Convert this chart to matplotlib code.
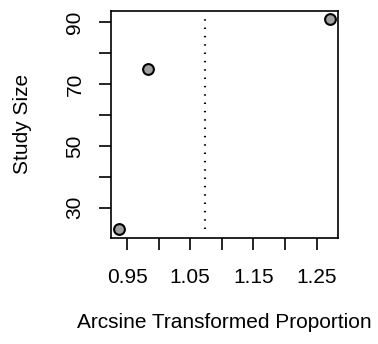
import matplotlib
matplotlib.use("Agg")
import matplotlib.pyplot as plt
import numpy as np

plt.rcParams['font.family'] = ['Liberation Sans', 'DejaVu Sans']

# Data
effect = [0.938, 0.983, 1.271]      # arcsine transformed proportions
study_size = [23, 75, 91]
pooled = 1.073
xticks = [0.95, 1.00, 1.05, 1.10, 1.15, 1.20, 1.25]
xtick_labels = ["0.95", "", "1.05", "", "1.15", "", "1.25"]
yticks = [30, 40, 50, 60, 70, 80, 90]
ytick_labels = ["30", "", "50", "", "70", "", "90"]

W, H = 378, 344
fig = plt.figure(figsize=(W/100, H/100), dpi=100)
ax = fig.add_axes([111/W, 1-237.7/H, (338.3-111)/W, (237.7-10.7)/H])

ax.plot([pooled, pooled], [min(study_size), max(study_size)], color='black',
        lw=1.5, dashes=(0.7, 3.3))
ax.scatter(effect, study_size, s=60, facecolor='#A0A0A0', edgecolor='black',
           linewidths=1.5, zorder=3)

xr = max(effect) - min(effect)
ax.set_xlim(min(effect) - 0.04*xr, max(effect) + 0.04*xr)
yr = max(study_size) - min(study_size)
ax.set_ylim(min(study_size) - 0.04*yr, max(study_size) + 0.04*yr)

ax.set_xticks(xticks)
ax.set_xticklabels(xtick_labels)
ax.set_yticks(yticks)
ax.set_yticklabels(ytick_labels, rotation=90, va='center')
ax.tick_params(axis='both', length=8.6, width=1.2, labelsize=15, color='black')
ax.tick_params(axis='x', pad=13)
ax.tick_params(axis='y', pad=10.5)
for s in ax.spines.values():
    s.set_linewidth(1.2)

fig.text(224.7/W, 1-323/H, "Arcsine Transformed Proportion", ha='center',
         va='center', fontsize=15)
fig.text(23/W, 1-124.2/H, "Study Size", ha='center', va='center',
         rotation=90, fontsize=15)

fig.savefig("out.png", dpi=100)
